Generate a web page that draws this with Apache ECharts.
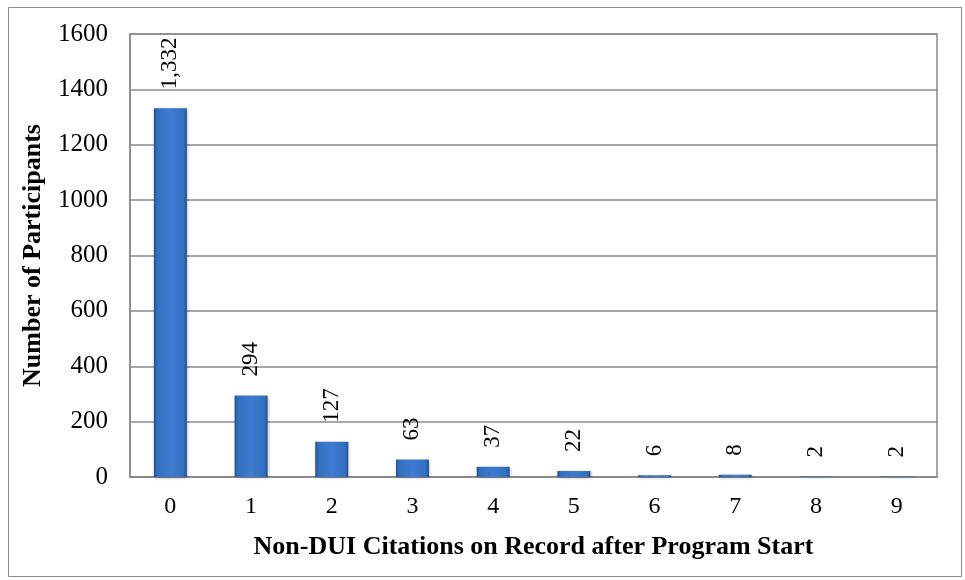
<!DOCTYPE html>
<html><head><meta charset="utf-8">
<script src="https://cdn.jsdelivr.net/npm/echarts@6/dist/echarts.min.js"></script>
<style>html,body{margin:0;padding:0;background:#fff}#c{width:965px;height:580px}</style>
</head><body><div id="c"></div>
<script>
const categories = ['0','1','2','3','4','5','6','7','8','9'];
const participants = [1332, 294, 127, 63, 37, 22, 6, 8, 2, 2];
const yTicks = [0, 200, 400, 600, 800, 1000, 1200, 1400, 1600];
const xTitle = 'Non-DUI Citations on Record after Program Start';
const yTitle = 'Number of Participants';

const chart = echarts.init(document.getElementById('c'));
const font = '"Liberation Serif", "Times New Roman", serif';
chart.setOption({
  animation: false,
  graphic: [{
    type: 'rect', left: 6, top: 5, shape: {width: 953, height: 569},
    style: {fill: 'none', stroke: '#8c8c8c', lineWidth: 1}
  }],
  grid: {left: 130, right: 28, top: 34, bottom: 103, show: true, borderColor: '#8a8a8a', borderWidth: 1.5},
  xAxis: {
    type: 'category', data: categories,
    axisLine: {lineStyle: {color: '#8a8a8a', width: 2}},
    axisTick: {show: false},
    axisLabel: {fontFamily: font, fontSize: 24, color: '#000', margin: 18},
    name: xTitle, nameLocation: 'middle', nameGap: 57,
    nameTextStyle: {fontFamily: font, fontSize: 26, fontWeight: 'bold', color: '#000'}
  },
  yAxis: {
    type: 'value', min: yTicks[0], max: yTicks[yTicks.length-1], interval: 200,
    axisLine: {show: true, lineStyle: {color: '#8a8a8a', width: 1.5}},
    axisTick: {show: false},
    splitLine: {lineStyle: {color: '#8a8a8a', width: 1.5}},
    axisLabel: {fontFamily: font, fontSize: 25, color: '#000', margin: 22, formatter: v => String(v)},
    name: yTitle, nameLocation: 'middle', nameGap: 84,
    nameTextStyle: {fontFamily: font, fontSize: 26, fontWeight: 'bold', color: '#000'}
  },
  series: [{
    type: 'bar', data: participants, barWidth: 33,
    itemStyle: {
      color: new echarts.graphic.LinearGradient(0, 0, 1, 0, [
        {offset: 0, color: '#1f4f91'},
        {offset: 0.1, color: '#3470c0'},
        {offset: 0.5, color: '#3d7bd0'},
        {offset: 0.9, color: '#3470c0'},
        {offset: 1, color: '#1f4f91'}
      ]),
      shadowColor: 'rgba(0,0,0,0.3)', shadowBlur: 3, shadowOffsetX: 1, shadowOffsetY: 1
    },
    label: {
      show: true, position: 'top', rotate: 90, align: 'left', verticalAlign: 'middle',
      distance: 19, fontFamily: font, fontSize: 23, color: '#000',
      formatter: p => p.value.toLocaleString('en-US')
    }
  }]
});
</script></body></html>
